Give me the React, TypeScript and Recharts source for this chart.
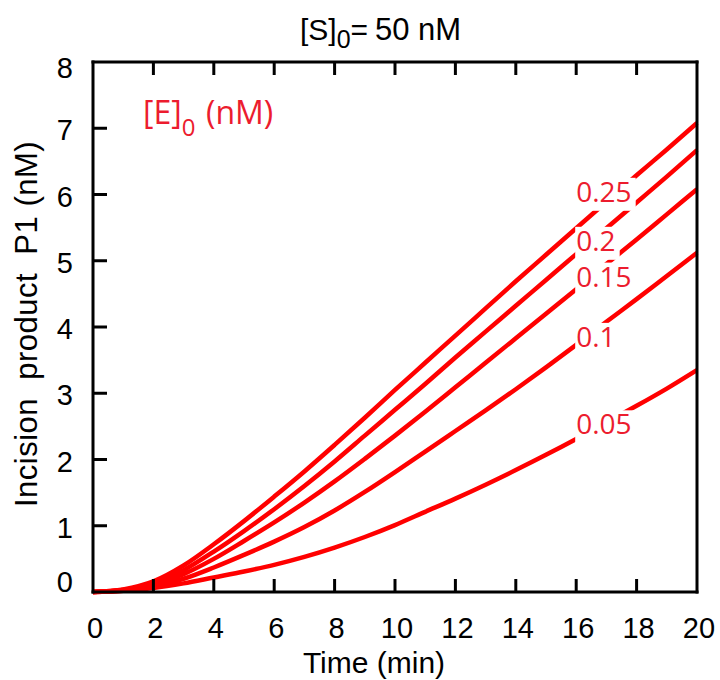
import React from 'react';
import { LineChart, Line, XAxis, YAxis, ReferenceDot } from 'recharts';

// ---- data ----
const times = [0, 1, 2, 3, 4, 5, 6, 7, 8, 9, 10, 11, 12, 13, 14, 15, 16, 17, 18, 19, 20];
const e025 = [0, 0.04, 0.16, 0.40, 0.72, 1.07, 1.44, 1.82, 2.22, 2.63, 3.05, 3.46, 3.87, 4.28, 4.69, 5.09, 5.49, 5.89, 6.29, 6.68, 7.08];
const e020 = [0, 0.03, 0.13, 0.33, 0.61, 0.92, 1.25, 1.60, 1.97, 2.36, 2.75, 3.14, 3.54, 3.93, 4.32, 4.71, 5.10, 5.49, 5.88, 6.27, 6.67];
const e015 = [0, 0.03, 0.11, 0.27, 0.50, 0.77, 1.05, 1.35, 1.67, 2.01, 2.36, 2.72, 3.09, 3.46, 3.83, 4.20, 4.57, 4.95, 5.32, 5.70, 6.08];
const e010 = [0, 0.02, 0.08, 0.20, 0.37, 0.56, 0.76, 0.98, 1.23, 1.51, 1.81, 2.12, 2.43, 2.74, 3.06, 3.39, 3.73, 4.08, 4.42, 4.77, 5.12];
const e005 = [0, 0.02, 0.06, 0.13, 0.22, 0.31, 0.41, 0.53, 0.67, 0.83, 1.01, 1.21, 1.41, 1.62, 1.84, 2.07, 2.31, 2.56, 2.81, 3.07, 3.35];

const seriesKeys = ['e025', 'e020', 'e015', 'e010', 'e005'];
const curveLabels = ['0.25', '0.2', '0.15', '0.1', '0.05'];
const curveLabelX = 16;
const curveLabelY = [5.89, 5.15, 4.61, 3.70, 2.38];

const xTicks = [0, 2, 4, 6, 8, 10, 12, 14, 16, 18, 20];
const yTicks = [0, 1, 2, 3, 4, 5, 6, 7, 8];

const data = times.map((t, i) => ({
  t,
  e025: e025[i],
  e020: e020[i],
  e015: e015[i],
  e010: e010[i],
  e005: e005[i],
}));

// ---- styles ----
const RED = '#ff0000';
const LABEL_RED = '#ec1c2e';
const BLACK_FONT = '"Liberation Sans", Arial, sans-serif';
const RED_FONT = '"Open Sans", "Noto Sans", sans-serif';

const charW = (s: string, fs: number) =>
  s.split('').reduce((a, c) => a + (c === '.' ? 0.266 : 0.572) * fs, 0);

const BottomTick = (props: any) => {
  const { x, y, payload } = props;
  const v = payload.value;
  return (
    <g>
      {v > 0 && v < 20 && (
        <line x1={x} x2={x} y1={y} y2={y - 13} stroke="#000" strokeWidth={3} />
      )}
      <text x={x + 2} y={y + 46} textAnchor="middle" fontSize={29} fontFamily={BLACK_FONT} fill="#000">
        {v}
      </text>
    </g>
  );
};

const TopTick = (props: any) => {
  const { x, y, payload } = props;
  const v = payload.value;
  if (v <= 0 || v >= 20) return <g />;
  return <line x1={x} x2={x} y1={y} y2={y + 13} stroke="#000" strokeWidth={3} />;
};

const LeftTick = (props: any) => {
  const { x, y, payload } = props;
  const v = payload.value;
  const off = v === 0 ? -10 : v === 8 ? 6 : 2;
  return (
    <g>
      {v > 0 && v < 8 && (
        <line x1={x} x2={x + 14} y1={y} y2={y} stroke="#000" strokeWidth={3} />
      )}
      <text x={x - 20} y={y + off + 10} textAnchor="end" fontSize={29} fontFamily={BLACK_FONT} fill="#000">
        {v}
      </text>
    </g>
  );
};

const makeLabelShape = (txt: string) => (props: any) => {
  const { cx, cy } = props;
  const fs = 28;
  const w = charW(txt, fs);
  return (
    <g>
      <rect x={cx - 1} y={cy - 24} width={w + 5} height={33} fill="#fff" />
      <text x={cx} y={cy} fontSize={fs} fontFamily={RED_FONT} fill={LABEL_RED}>
        {txt}
      </text>
    </g>
  );
};

const axisLineStyle = { stroke: '#000', strokeWidth: 3, strokeLinecap: 'square' as const };

export default function App() {
  return (
    <div style={{ position: 'absolute', left: 0, top: 0, width: 720, height: 680, background: '#fff' }}>
      <LineChart width={720} height={680} data={data} margin={{ top: 0, right: 0, bottom: 0, left: 0 }}>
        <XAxis
          dataKey="t"
          type="number"
          domain={[0, 20]}
          ticks={xTicks}
          interval={0}
          height={88}
          tickSize={0}
          tickMargin={0}
          tickLine={false}
          axisLine={axisLineStyle}
          tick={<BottomTick />}
        />
        <XAxis
          xAxisId="top"
          dataKey="t"
          type="number"
          orientation="top"
          domain={[0, 20]}
          ticks={xTicks}
          interval={0}
          height={62}
          tickSize={0}
          tickMargin={0}
          tickLine={false}
          axisLine={axisLineStyle}
          tick={<TopTick />}
        />
        <YAxis
          type="number"
          domain={[0, 8]}
          ticks={yTicks}
          interval={0}
          width={93}
          tickSize={0}
          tickMargin={0}
          tickLine={false}
          axisLine={axisLineStyle}
          tick={<LeftTick />}
        />
        <YAxis
          yAxisId="right"
          orientation="right"
          type="number"
          domain={[0, 8]}
          width={23}
          tick={false}
          tickLine={false}
          axisLine={axisLineStyle}
        />
        {seriesKeys.map((k) => (
          <Line
            key={k}
            dataKey={k}
            type="monotone"
            stroke={RED}
            strokeWidth={4.5}
            dot={false}
            activeDot={false}
            isAnimationActive={false}
          />
        ))}
        {curveLabels.map((lab, i) => (
          <ReferenceDot
            key={lab}
            x={curveLabelX}
            y={curveLabelY[i]}
            ifOverflow="visible"
            shape={makeLabelShape(lab)}
          />
        ))}
      </LineChart>
      <svg
        width={720}
        height={680}
        style={{ position: 'absolute', left: 0, top: 0, pointerEvents: 'none' }}
      >
        <text x={300} y={40} fontSize={30} fontFamily={BLACK_FONT} fill="#000">
          [S]
          <tspan dy={8} fontSize={25}>0</tspan>
          <tspan dy={-8}>=</tspan>
          <tspan x={375} fontSize={31}>50 nM</tspan>
        </text>
        <text x={143} y={124} fontSize={32} fontFamily={RED_FONT} fill={LABEL_RED}>
          [E]
          <tspan dy={12} fontSize={24}>0</tspan>
          <tspan dy={-12} x={206}>(nM)</tspan>
        </text>
        <text x={374} y={673} textAnchor="middle" fontSize={30} fontFamily={BLACK_FONT} fill="#000">
          Time (min)
        </text>
        <text
          x={37}
          y={324}
          transform="rotate(-90 37 324)"
          textAnchor="middle"
          fontSize={31}
          letterSpacing={0.5}
          fontFamily={BLACK_FONT}
          fill="#000"
          style={{ whiteSpace: 'pre' }}
        >
          {'Incision  product  P1 (nM)'}
        </text>
      </svg>
    </div>
  );
}
